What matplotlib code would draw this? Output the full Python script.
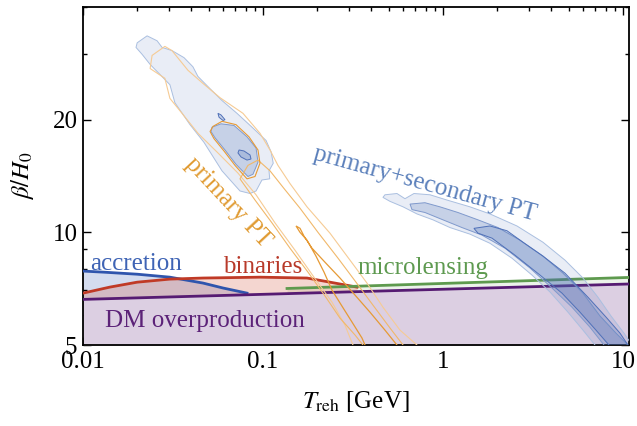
"""beta/H0 vs reheating temperature: PT posteriors against PBH bounds."""

import matplotlib

matplotlib.use("Agg")  # headless
import matplotlib.pyplot as plt  # noqa: E402
from matplotlib.colors import to_rgba  # noqa: E402

plt.rcParams["font.family"] = ["Liberation Serif", "DejaVu Serif"]
plt.rcParams["mathtext.fontset"] = "stix"

# --- bounds (T_reh in GeV, beta/H0) -------------------------------------------
DM_T = [0.01, 11.0]
DM_B = [6.62, 7.28]

LENS_T = [0.136, 11.0]
LENS_B = [7.08, 7.58]

BIN_T = [0.01, 0.0141, 0.0200, 0.0304, 0.0464, 0.0962, 0.1756, 0.2356, 0.333]
BIN_B = [6.88, 7.14, 7.36, 7.50, 7.55, 7.59, 7.55, 7.36, 7.14]

ACC_T = [0.01, 0.0129, 0.0200, 0.0304, 0.0464, 0.0600, 0.0815]
ACC_B = [7.88, 7.83, 7.73, 7.59, 7.32, 7.10, 6.88]

# --- primary+secondary PT posterior, low-T island ------------------------------
ISL_OUT_T = [0.0200, 0.0227, 0.0258, 0.0275, 0.0312, 0.0364, 0.0408, 0.0435,
             0.0508, 0.0592, 0.0717, 0.0869, 0.104, 0.111, 0.114, 0.108, 0.109,
             0.0987, 0.0915, 0.0847, 0.0745, 0.0592, 0.0470, 0.0393, 0.0324,
             0.0304, 0.0268, 0.0236, 0.0213, 0.0197]
ISL_OUT_B = [32.1, 33.5, 32.5, 31.2, 30.6, 29.3, 27.7, 26.1, 24.2, 22.5, 20.8,
             19.1, 17.6, 16.4, 15.3, 14.6, 13.9, 13.8, 12.9, 12.7, 12.9, 14.6,
             17.4, 19.4, 22.2, 24.8, 26.4, 28.1, 29.9, 31.2]
ISL_MID_T = [0.0521, 0.0584, 0.0690, 0.0815, 0.0915, 0.0938, 0.0880, 0.0825,
             0.0708, 0.0615, 0.0541, 0.0514]
ISL_MID_B = [19.1, 19.5, 19.3, 18.0, 16.8, 15.4, 14.3, 14.1, 15.2, 16.6, 17.9, 18.6]
ISL_IN_T = [0.0736, 0.0784, 0.0847, 0.0858, 0.0815, 0.0755, 0.0726]
ISL_IN_B = [16.6, 16.5, 16.1, 15.7, 15.6, 15.9, 16.3]
ISL_DOT_T = [0.0562, 0.0584, 0.0615, 0.0600, 0.0570]
ISL_DOT_B = [20.8, 20.6, 20.0, 19.9, 20.3]

# --- primary+secondary PT posterior, main band ---------------------------------
PS_OUT_T = [0.476, 0.555, 0.615, 0.690, 0.847, 1.052, 1.413, 1.824, 2.577, 3.594,
            4.762, 5.995, 7.262, 8.577, 10.13, 11.22, 12.43,
            7.451, 6.988, 5.995, 4.948, 3.930, 3.122, 2.417, 1.824, 1.413,
            1.094, 0.880, 0.717, 0.600, 0.508, 0.464]
PS_OUT_B = [12.6, 12.7, 12.3, 12.7, 12.6, 12.2, 11.7, 11.2, 10.4, 9.41, 8.43,
            7.55, 6.71, 5.98, 5.38, 5.00, 4.79,
            4.79, 5.00, 5.48, 6.12, 6.93, 7.69, 8.53, 9.35, 9.89, 10.3, 10.8,
            11.2, 11.7, 12.1, 12.4]
PS_MID_T = [0.656, 0.794, 0.962, 1.211, 1.565, 2.021, 2.678, 3.594, 4.642, 5.995,
            7.451, 9.145, 10.66, 11.66,
            8.254, 7.842, 6.556, 5.210, 4.033, 3.043, 2.211, 1.647, 1.275,
            1.000, 0.794, 0.673]
PS_MID_B = [11.9, 12.0, 11.7, 11.3, 10.8, 10.3, 9.53, 8.64, 7.78, 6.88, 5.98,
            5.38, 5.00, 4.79,
            4.79, 5.00, 5.58, 6.31, 7.10, 8.03, 9.07, 9.83, 10.3, 10.8, 11.3, 11.5]
PS_IN_T = [1.486, 1.824, 2.268, 2.783, 3.594, 4.762, 6.389, 8.046, 9.624, 10.66,
           11.22,
           8.687, 8.360, 7.079, 5.770, 4.583, 3.458, 2.512, 1.872, 1.565]
PS_IN_B = [10.25, 10.4, 10.1, 9.41, 8.64, 7.78, 6.71, 5.94, 5.38, 5.00, 4.79,
           4.79, 5.00, 5.48, 6.12, 6.88, 7.69, 8.69, 9.65, 9.95]

# --- primary PT posterior (line contours) --------------------------------------
P2_T = [0.0285, 0.0242, 0.0236, 0.0285, 0.0304, 0.0355, 0.0435, 0.0562, 0.0726,
        0.0915, 0.1166, 0.1506, 0.1920, 0.2417, 0.2855, 0.3162, 0.3286,
        0.7451, 0.717, 0.5770, 0.464, 0.3782, 0.3043, 0.2356, 0.1756, 0.1413,
        0.1211, 0.1094, 0.0962, 0.0774, 0.0577, 0.0464, 0.0383, 0.0312]
P2_B = [31.4, 29.7, 27.4, 25.8, 22.8, 20.8, 18.4, 16.3, 14.4, 12.6, 10.6, 8.96,
        7.59, 6.51, 5.65, 5.00, 4.79,
        4.79, 5.00, 5.48, 6.31, 7.32, 8.43, 9.95, 11.7, 13.5, 15.1, 16.6, 18.4,
        20.8, 22.9, 25.0, 27.1, 30.6]
PM_T = [0.0745, 0.0903, 0.1122, 0.1413, 0.1778, 0.2211, 0.2678, 0.3244, 0.3594,
        0.3734,
        0.615, 0.600, 0.508, 0.4084, 0.3286, 0.2612, 0.2021, 0.1606, 0.1308,
        0.1094, 0.0938, 0.0825]
PM_B = [13.9, 12.2, 10.6, 9.07, 7.83, 6.76, 5.90, 5.32, 5.00, 4.79,
        4.79, 5.00, 5.55, 6.39, 7.36, 8.53, 10.0, 11.6, 13.1, 14.6, 15.6, 15.1]
P1_CORE_T = [0.0528, 0.0592, 0.0708, 0.0836, 0.0938, 0.0962, 0.0903, 0.0815,
             0.0699, 0.0607, 0.0534, 0.0508]
P1_CORE_B = [19.2, 19.8, 19.4, 18.0, 16.6, 15.3, 14.1, 13.9, 15.1, 16.5, 17.8, 18.6]
P1_TAIL_T = [0.1526, 0.1606, 0.1756, 0.1970, 0.2183, 0.2417, 0.2748, 0.3122,
             0.3548, 0.3831,
             0.5770, 0.555, 0.476, 0.3930, 0.3244, 0.2678, 0.2211, 0.1872,
             0.1690, 0.1606]
P1_TAIL_B = [10.4, 10.0, 9.53, 8.64, 7.83, 7.01, 6.35, 5.76, 5.22, 4.79,
             4.79, 5.00, 5.48, 6.12, 6.80, 7.55, 8.32, 9.07, 9.77, 10.25]

X_TICKS = [0.01, 0.1, 1, 10]
X_LABELS = ["0.01", "0.1", "1", "10"]
Y_TICKS = [5, 10, 20]
Y_LABELS = ["5", "10", "20"]
Y_MINOR = [6, 7, 8, 9, 30, 40]

BLUE = "#4a6fb5"


def _blob(ax, t, b, alpha, edge):
    ax.fill(t, b, facecolor=to_rgba(BLUE, alpha), edgecolor=edge, lw=0.7, zorder=4)


fig = plt.figure(figsize=(6.37, 4.26), dpi=100)
ax = fig.add_axes([0.1303, 0.1901, 0.8571, 0.7934])
ax.set_xscale("log")
ax.set_yscale("log")

# excluded regions (semi-transparent, DM overproduction opaque on top)
ax.fill_between(LENS_T, LENS_B, 4, color="#6aa35a", alpha=0.12, lw=0, zorder=1)
ax.fill_between(ACC_T, ACC_B, 4, color="#3d63b8", alpha=0.22, lw=0, zorder=1)
ax.fill_between(BIN_T, BIN_B, 4, color="#d0452a", alpha=0.22, lw=0, zorder=1)
ax.fill_between(DM_T, DM_B, 4, color="#dccfe2", lw=0, zorder=2)

ax.plot(ACC_T, ACC_B, color="#2f55ad", lw=2.0, zorder=3)
ax.plot(BIN_T, BIN_B, color="#c03a26", lw=2.0, zorder=3)
ax.plot(LENS_T, LENS_B, color="#5e9a4e", lw=2.0, zorder=3)
ax.plot(DM_T, DM_B, color="#561b72", lw=2.0, zorder=3)

# primary+secondary PT posterior
_blob(ax, ISL_OUT_T, ISL_OUT_B, 0.12, "#aabfe0")
_blob(ax, ISL_MID_T, ISL_MID_B, 0.22, "#7f99cc")
_blob(ax, ISL_IN_T, ISL_IN_B, 0.22, "#4f70b8")
_blob(ax, ISL_DOT_T, ISL_DOT_B, 0.22, "#4f70b8")
_blob(ax, PS_OUT_T, PS_OUT_B, 0.12, "#aabfe0")
_blob(ax, PS_MID_T, PS_MID_B, 0.22, "#7f99cc")
_blob(ax, PS_IN_T, PS_IN_B, 0.22, "#4f70b8")

# primary PT posterior (lines only)
ax.fill(P2_T, P2_B, fill=False, edgecolor="#f6cb94", lw=0.8, zorder=5)
ax.fill(PM_T, PM_B, fill=False, edgecolor="#f1b86a", lw=0.8, zorder=5)
ax.fill(P1_CORE_T, P1_CORE_B, fill=False, edgecolor="#e69a35", lw=0.8, zorder=5)
ax.fill(P1_TAIL_T, P1_TAIL_B, fill=False, edgecolor="#e69a35", lw=0.9, zorder=5)

fs = 18
ax.text(0.0109, 7.95, "accretion", color="#3f64b5", fontsize=fs, zorder=6)
ax.text(0.0600, 7.8, "binaries", color="#b83a2a", fontsize=fs, zorder=6)
ax.text(0.0133, 5.6, "DM overproduction", color="#5c2278", fontsize=fs, zorder=6)
ax.text(0.337, 7.73, "microlensing", color="#5e9a50", fontsize=fs, zorder=6)
ax.text(0.794, 13.44, "primary+secondary PT", color="#5b80bb", fontsize=fs,
        rotation=-15.5, ha="center", va="center", rotation_mode="anchor", zorder=6)
ax.text(0.0639, 12.0, "primary PT", color="#e09a30", fontsize=fs,
        rotation=-47, ha="center", va="center", rotation_mode="anchor", zorder=6)

ax.set_xlim(0.01, 10.8)
ax.set_ylim(5, 40)
ax.set_xticks(X_TICKS)
ax.set_xticklabels(X_LABELS)
ax.set_yticks(Y_TICKS)
ax.set_yticklabels(Y_LABELS)
ax.set_yticks(Y_MINOR, minor=True)
ax.yaxis.set_minor_formatter(plt.NullFormatter())
ax.tick_params(which="both", direction="in", top=True, right=True,
               labelsize=fs, width=1.0)
ax.tick_params(which="major", length=5.5, pad=4)
ax.tick_params(which="minor", length=2.8)
for s in ax.spines.values():
    s.set_linewidth(1.3)

ax.set_xlabel(r"$T_{\rm reh}$ [GeV]", fontsize=fs, labelpad=12)
ax.set_ylabel(r"$\beta/H_0$", fontsize=fs, labelpad=12)

fig.savefig("out.png", dpi=100)
